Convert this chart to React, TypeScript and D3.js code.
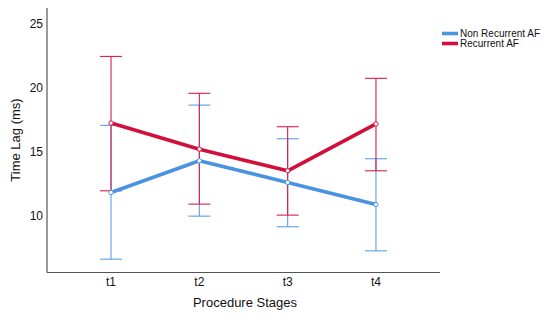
import React from "react";
import * as d3 from "d3";

const stages = ["t1", "t2", "t3", "t4"];
const seriesNames = ["Non Recurrent AF", "Recurrent AF"];
const nonRecMean = [11.85, 14.32, 12.63, 10.91];
const nonRecUpper = [17.09, 18.67, 16.04, 14.48];
const nonRecLower = [6.64, 10.0, 9.17, 7.29];
const recMean = [17.27, 15.23, 13.54, 17.2];
const recUpper = [22.47, 19.59, 16.98, 20.76];
const recLower = [11.98, 10.94, 10.08, 13.54];
const yTicks = [10, 15, 20, 25];
const colors = ["#4a93e3", "#d0103a"];
const barColors = ["#5a9fe8", "#d81e4a"];

const W = 550, H = 323;
const left = 47, right = 440, top = 8, bottom = 272.5;

export default function App() {
  const x = d3.scalePoint<string>().domain(stages).range([left, right]).padding(0.725);
  const y = d3.scaleLinear().domain([5.6, 26.25]).range([bottom, top]);
  const series = [
    { name: seriesNames[0], mean: nonRecMean, up: nonRecUpper, lo: nonRecLower },
    { name: seriesNames[1], mean: recMean, up: recUpper, lo: recLower },
  ];
  const line = d3.line<number>().x((_, i) => x(stages[i])!).y((d) => y(d));
  const font = "Liberation Sans, Arial, Helvetica, sans-serif";
  return (
    <svg width={W} height={H} style={{ position: "absolute", left: 0, top: 0 }} fontFamily={font}>
      <rect width={W} height={H} fill="#fff" />
      {series.map((s, si) =>
        s.mean.map((m, i) => {
          const cx = x(stages[i])!;
          return (
            <g key={`eb${si}-${i}`} stroke={barColors[si]} strokeWidth={1.1} fill="none">
              <line x1={cx} x2={cx} y1={y(s.up[i])} y2={y(s.lo[i])} />
              <line x1={cx - 11} x2={cx + 11} y1={y(s.up[i])} y2={y(s.up[i])} />
              <line x1={cx - 11} x2={cx + 11} y1={y(s.lo[i])} y2={y(s.lo[i])} />
            </g>
          );
        })
      )}
      {series.map((s, si) => (
        <g key={`ln${si}`}>
          <path d={line(s.mean)!} fill="none" stroke={colors[si]} strokeWidth={3.6} strokeLinejoin="round" />
          {s.mean.map((m, i) => (
            <circle key={i} cx={x(stages[i])!} cy={y(m)} r={2.2} fill="#fff" stroke={colors[si]} strokeWidth={1} />
          ))}
        </g>
      ))}
      <line x1={left} x2={left} y1={top} y2={bottom} stroke="#555" strokeWidth={1.2} />
      <line x1={left} x2={right} y1={bottom} y2={bottom} stroke="#555" strokeWidth={1.2} />
      {yTicks.map((t) => (
        <text key={t} x={43} y={y(t)} dy="0.35em" textAnchor="end" fontSize={12} fill="#111">
          {t}
        </text>
      ))}
      {stages.map((s) => (
        <text key={s} x={x(s)!} y={282} dy="0.35em" textAnchor="middle" fontSize={12} fill="#111">
          {s}
        </text>
      ))}
      <text x={245} y={302} dy="0.35em" textAnchor="middle" fontSize={13} fill="#111">
        Procedure Stages
      </text>
      <text transform={`translate(15,140) rotate(-90)`} dy="0.35em" textAnchor="middle" fontSize={13} fill="#111">
        Time Lag (ms)
      </text>
      {seriesNames.map((n, i) => (
        <g key={n} transform={`translate(442,${33.5 + i * 10})`}>
          <line x1={0} x2={16} y1={0} y2={0} stroke={colors[i]} strokeWidth={3.6} />
          <text x={18} y={0} dy="0.35em" fontSize={10} fill="#111">
            {n}
          </text>
        </g>
      ))}
    </svg>
  );
}
